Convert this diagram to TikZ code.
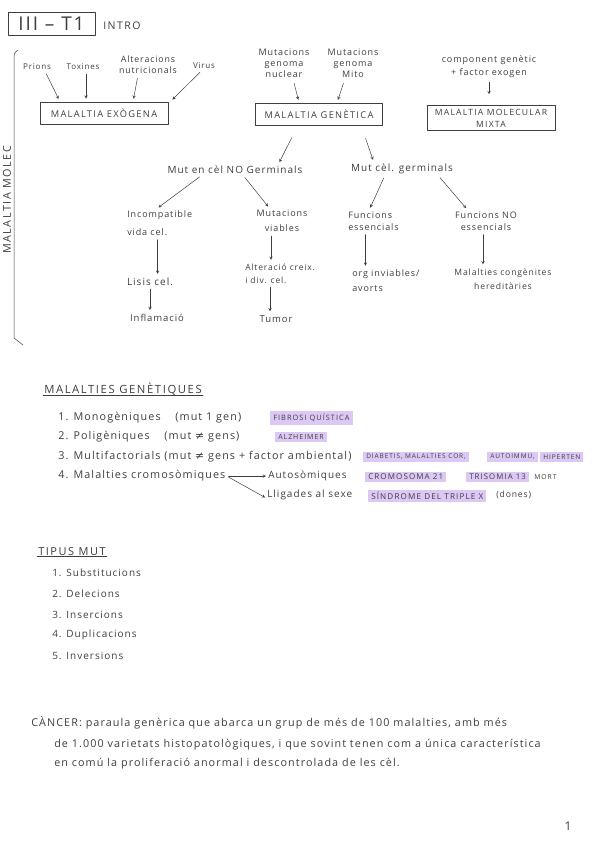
\documentclass[tikz,border=0pt]{standalone}
\usepackage{fontspec}
\setmainfont{Open Sans}[LetterSpace=10]
\newfontfamily\capsfont[LetterSpace=14]{Open Sans}
\newfontfamily\symfont{DejaVu Sans}
\usetikzlibrary{%
  arrows,%
  positioning%
}
\definecolor{pencil}{RGB}{62,62,62}
\definecolor{marker}{RGB}{220,200,244}
\newcommand\handsize{\fontsize{9}{12}\selectfont}
\newcommand\smallhand{\fontsize{8}{11}\selectfont}
\newcommand\bighand{\fontsize{10.8}{13}\selectfont}
\newcommand\diff{{\symfont ≠}}

\begin{document}
\begin{tikzpicture}[
    x=1pt,y=-1pt,
    >=stealth,line width=0.5pt,color=pencil,
    line join=round,line cap=round,
    every node/.style={inner sep=1pt,font=\handsize},
    malbox/.style={rectangle,draw,align=center,minimum height=22pt,
        font=\capsfont\fontsize{9.3}{11}\selectfont},
    marked/.style={fill=marker,inner xsep=3pt,inner ysep=2.5pt,
        font=\capsfont\fontsize{7}{9}\selectfont},
    flow/.style={->,shorten >=3pt,shorten <=3pt},
    heading/.style={font=\capsfont\fontsize{11.3}{13}\selectfont}
  ]
    \useasboundingbox (0,0) rectangle (600,848);

    % capcalera
    \node[draw,minimum width=87pt,minimum height=23pt,
        font=\fontsize{19}{20}\selectfont] (tema) at (51.5,23.5) {III -- T1};
    \node[anchor=west,font=\capsfont\fontsize{10.5}{12}\selectfont] (intro) at (102,26) {INTRO};

    % claudator lateral
    \draw (18,50) .. controls (14,53) .. (14,62) -- (14,338) -- (23,345);
    \node[rotate=90,font=\capsfont\fontsize{10.8}{12}\selectfont] (molec) at (7,200)
        {MALALTIA MOLEC};

    % malaltia exogena
    \node[malbox,minimum width=128pt] (exo) at (104,113) {MALALTIA EXÒGENA};
    \node[font=\smallhand] (prions)  at (37,67) {Prions};
    \node[font=\smallhand] (toxines) at (83,67) {Toxines};
    \node[font=\fontsize{8.8}{11}\selectfont,align=center] (alter) at (148,65)
        {Alteracions\\nutricionals};
    \node[font=\smallhand] (virus)   at (204,66) {Virus};
    \draw[flow] ([xshift=8pt]prions.south) -- ([xshift=-44pt]exo.north);
    \draw[flow] ([xshift=3pt]toxines.south) -- ([xshift=-18pt]exo.north);
    \draw[flow] ([xshift=-10pt]alter.south) -- ([xshift=29pt]exo.north);
    \draw[flow] ([xshift=-2pt]virus.south) -- ([xshift=2pt]exo.north east);

    % malaltia genetica
    \node[malbox,minimum width=127pt] (gen) at (319,114) {MALALTIA GENÈTICA};
    \node[font=\fontsize{9}{11}\selectfont,align=center] (nuclear) at (284,63)
        {Mutacions\\genoma\\nuclear};
    \node[font=\fontsize{9}{11}\selectfont,align=center] (mito) at (353,63)
        {Mutacions\\genoma\\Mito};
    \draw[flow,shorten <=5pt] ([xshift=9pt]nuclear.south) -- ([xshift=-20pt]gen.north);
    \draw[flow,shorten <=5pt] ([xshift=-8pt]mito.south) -- ([xshift=18pt]gen.north);

    % malaltia mixta
    \node[malbox,minimum width=128pt,minimum height=25pt,
        font=\capsfont\fontsize{8.6}{12}\selectfont] (mixta) at (491,118)
        {MALALTIA MOLECULAR\\MIXTA};
    \node[font=\fontsize{9}{13}\selectfont,align=center] (comp) at (489,67)
        {component genètic\\+ factor exogen};
    \draw[flow,shorten >=11pt,shorten <=3pt] (comp.south) -- (comp.south |- mixta.north);

    % mutacions
    \node[font=\fontsize{10}{12}\selectfont] (nogerm) at (235,170) {Mut en cèl NO Germinals};
    \node[font=\fontsize{10}{12}\selectfont] (germ)   at (402,169) {Mut cèl. germinals};
    \draw[flow,shorten <=14pt] ([xshift=-21pt]gen.south) -- ([xshift=43pt]nogerm.north);
    \draw[flow,shorten <=14pt] ([xshift=42pt]gen.south) -- ([xshift=-28pt]germ.north);

    \node[align=left,anchor=west] (incomp) at (126,223) {Incompatible\\[6pt]vida cel.};
    \node[align=center] (viables) at (282,221) {Mutacions\\[3pt]viables};
    \node[align=left,anchor=west] (funcess) at (347,221) {Funcions\\essencials};
    \node[align=center] (funcno) at (486,221) {Funcions NO\\essencials};
    \draw[flow] ([xshift=-33pt]nogerm.south) -- ([xshift=30pt]incomp.north west);
    \draw[flow] ([xshift=8pt]nogerm.south) -- ([xshift=-12pt]viables.north);
    \draw[flow] ([xshift=-17pt]germ.south) -- ([xshift=22pt]funcess.north west);
    \draw[flow] ([xshift=36pt]germ.south) -- ([xshift=-18pt]funcno.north);

    \node[font=\fontsize{10}{12}\selectfont] (lisis) at (150,282) {Lisis cel.};
    \node[font=\fontsize{9.5}{12}\selectfont] (infl)  at (157,318) {Inflamació};
    \draw[flow] ([xshift=-2pt]incomp.south) -- ([xshift=-2pt]incomp.south |- lisis.north);
    \draw[flow,shorten <=2pt] (lisis.south) -- (lisis.south |- infl.north);

    \node[align=left,anchor=west,font=\fontsize{8.5}{13}\selectfont] (creix) at (244,274)
        {Alteració creix.\\i div. cel.};
    \node[font=\fontsize{9.5}{12}\selectfont] (tumor) at (276,319) {Tumor};
    \draw[flow] ([xshift=-11pt]viables.south) -- ([xshift=-11pt]viables.south |- creix.north);
    \draw[flow,shorten <=2pt] ([xshift=-6pt]tumor.north |- creix.south) -- ([xshift=-6pt]tumor.north);

    \node[align=left,anchor=west] (inviab) at (351,281) {org inviables/\\[3pt]avorts};
    \draw[flow] ([xshift=-8pt]funcess.south) -- ([xshift=-8pt]funcess.south |- inviab.north);

    \node[align=center,font=\fontsize{8.6}{12}\selectfont] (congen) at (503,279)
        {Malalties congènites\\[2pt]hereditàries};
    \draw[flow] ([xshift=-3pt]funcno.south) -- ([xshift=-3pt]funcno.south |- congen.north);

    % malalties genetiques
    \node[heading,anchor=west] (malgen) at (43,389) {MALALTIES GENÈTIQUES};
    \draw ([yshift=1pt]malgen.south west) -- ([yshift=1pt]malgen.south east);

    \node[anchor=west,font=\bighand] (mono) at (57,418) {1. Monogèniques \quad (mut 1 gen)};
    \node[marked,anchor=west,font=\capsfont\fontsize{7.4}{9}\selectfont] (fibrosi) at (270,418)
        {FIBROSI QUÍSTICA};
    \node[anchor=west,font=\bighand] (poli) at (57,437) {2. Poligèniques \quad (mut \diff\ gens)};
    \node[marked,anchor=west] (alzh) at (275,437) {ALZHEIMER};
    \node[anchor=west,font=\bighand] (multi) at (57,457)
        {3. Multifactorials (mut \diff\ gens + factor ambiental)};
    \node[marked,anchor=west,font=\capsfont\fontsize{6.5}{8}\selectfont] (diab) at (363,457)
        {DIABETIS, MALALTIES COR,};
    \node[marked,anchor=west,font=\capsfont\fontsize{6.5}{8}\selectfont] (autoimm) at (487,457)
        {AUTOIMMU,};
    \node[marked,anchor=west,font=\capsfont\fontsize{6.6}{8}\selectfont] (hiper) at (540,457)
        {HIPERTEN};
    \node[anchor=west,font=\bighand] (cromo) at (57,476) {4. Malalties cromosòmiques};
    \node[anchor=west,font=\fontsize{10}{12}\selectfont] (autos) at (267,476) {Autosòmiques};
    \node[anchor=west,font=\fontsize{10}{12}\selectfont] (lligades) at (266,495) {Lligades al sexe};
    \draw[flow,shorten <=2pt,shorten >=1pt] (cromo.east) -- (autos.west);
    \draw[flow,shorten <=2pt,shorten >=1pt] (cromo.east) -- ([yshift=-3pt]lligades.west);
    \node[marked,anchor=west,font=\capsfont\fontsize{8}{9}\selectfont] (cromo21) at (365,477)
        {CROMOSOMA 21};
    \node[marked,anchor=west,font=\capsfont\fontsize{7.8}{9}\selectfont] (triso) at (466,477)
        {TRISOMIA 13};
    \node[anchor=west,font=\capsfont\fontsize{6.8}{8}\selectfont] (mort) at (533,477) {MORT};
    \node[marked,anchor=west,font=\capsfont\fontsize{8.1}{9}\selectfont] (triple) at (368,496)
        {SÍNDROME DEL TRIPLE X};
    \node[anchor=west,font=\fontsize{8.6}{11}\selectfont] (dones) at (495,495) {(dones)};

    % tipus de mutacions
    \node[anchor=west,font=\capsfont\fontsize{11}{14}\selectfont] (tipus) at (37,552) {TIPUS MUT};
    \draw ([yshift=1pt]tipus.south west) -- ([yshift=1pt]tipus.south east);
    \foreach \tipmut [count=\i] in {Substitucions,Delecions,Insercions,Duplicacions,Inversions}
        \node[anchor=west,font=\fontsize{10}{12}\selectfont] (mut\i) at (51,552+20.8*\i)
            {\i. \tipmut};

    % cancer
    \node[anchor=west,font=\bighand] (canc1) at (30,723)
        {CÀNCER: paraula genèrica que abarca un grup de més de 100 malalties, amb més};
    \node[anchor=west,font=\bighand] (canc2) at (53,745)
        {de 1.000 varietats histopatològiques, i que sovint tenen com a única característica};
    \node[anchor=west,font=\bighand] (canc3) at (53,764)
        {en comú la proliferació anormal i descontrolada de les cèl.};

    \node[font=\fontsize{12}{13}\selectfont] (pagina) at (568,826) {1};
\end{tikzpicture}
\end{document}
